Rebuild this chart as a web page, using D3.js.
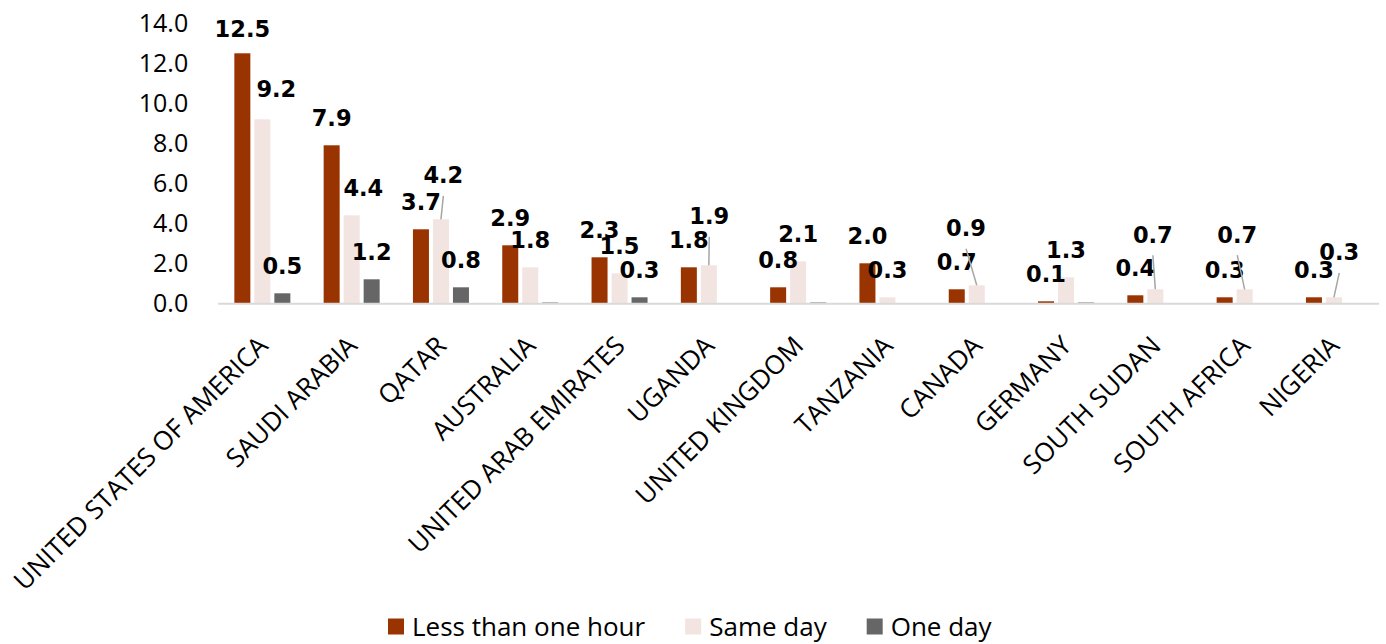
<!DOCTYPE html>
<html>
<head>
<meta charset="utf-8">
<script src="https://cdn.jsdelivr.net/npm/d3@7"></script>
<style>
  html, body { margin: 0; padding: 0; background: #fff; }
  svg { display: block; }
</style>
</head>
<body>
<svg id="chart" width="1386" height="644"></svg>
<script>
// Countries, in the order they appear on the axis
const categories = [
  "UNITED STATES OF AMERICA", "SAUDI ARABIA", "QATAR", "AUSTRALIA",
  "UNITED ARAB EMIRATES", "UGANDA", "UNITED KINGDOM", "TANZANIA",
  "CANADA", "GERMANY", "SOUTH SUDAN", "SOUTH AFRICA", "NIGERIA"
];

// Series values (percent)
const lessThanOneHour = [12.5, 7.9, 3.7, 2.9, 2.3, 1.8, 0.8, 2.0, 0.7, 0.1, 0.4, 0.3, 0.3];
const sameDay         = [9.2, 4.4, 4.2, 1.8, 1.5, 1.9, 2.1, 0.3, 0.9, 1.3, 0.7, 0.7, 0.3];
const oneDay          = [0.5, 1.2, 0.8, 0.04, 0.3, 0, 0.04, 0, 0, 0.04, 0, 0, 0];

const seriesNames = ["Less than one hour", "Same day", "One day"];
const seriesColors = ["#993300", "#F2E4E0", "#666666"];

// Y axis tick values
const yTicks = [0, 2, 4, 6, 8, 10, 12, 14];

// Data labels that were dragged away from their default spot (with leader lines)
const labelNudges = [
  { series: 0, cat: 0,  dx: 0,    dy: 3,   leader: false },
  { series: 1, cat: 0,  dx: 14,   dy: -3,  leader: false },
  { series: 1, cat: 1,  dx: 11.7, dy: 0,   leader: false },
  { series: 1, cat: 2,  dx: 2.4,  dy: -17, leader: true },
  { series: 1, cat: 5,  dx: 0.4,  dy: -22, leader: true },
  { series: 1, cat: 8,  dx: -10.7, dy: -30, leader: true },
  { series: 1, cat: 10, dx: -2.5, dy: -27.6, leader: true },
  { series: 1, cat: 11, dx: -7.4, dy: -27.6, leader: true },
  { series: 1, cat: 12, dx: 5.3,  dy: -18, leader: true }
];

const allSeries = [lessThanOneHour, sameDay, oneDay];

const svg = d3.select("#chart");
const plot = { left: 217.7, right: 1378.6, top: 23.3, bottom: 303.3 };

const x0 = d3.scaleBand()
  .domain(categories)
  .range([plot.left, plot.right])
  .paddingInner(0.328)
  .paddingOuter(0.164);

const x1 = d3.scaleBand()
  .domain(d3.range(seriesNames.length))
  .range([0, x0.bandwidth()])
  .paddingInner(0.2)
  .paddingOuter(0.1);

const y = d3.scaleLinear()
  .domain([0, 14])
  .range([plot.bottom, plot.top]);

const fmt = d3.format(".1f");

// Y axis: labels only, no line or gridlines
const yAxis = svg.append("g")
  .attr("transform", `translate(${plot.left},0)`)
  .call(d3.axisLeft(y).tickValues(yTicks).tickFormat(fmt).tickSize(0).tickPadding(29.5));
yAxis.select(".domain").remove();
yAxis.selectAll("text")
  .attr("font-family", "'Open Sans', sans-serif")
  .attr("font-size", 25)
  .attr("fill", "#000");

// Bars
const rows = [];
categories.forEach((c, ci) => {
  allSeries.forEach((vals, si) => {
    rows.push({ cat: c, ci, si, value: vals[ci] });
  });
});

svg.append("g").selectAll("rect")
  .data(rows.filter(d => d.value > 0))
  .join("rect")
  .attr("x", d => x0(d.cat) + x1(d.si))
  .attr("width", x1.bandwidth())
  .attr("y", d => y(d.value))
  .attr("height", d => y(0) - y(d.value))
  .attr("fill", d => seriesColors[d.si]);

// X axis baseline and rotated category labels
const xAxis = svg.append("g")
  .attr("transform", `translate(0,${plot.bottom})`)
  .call(d3.axisBottom(x0).tickSize(0).tickPadding(0));
xAxis.select(".domain")
  .attr("stroke", "#D9D9D9")
  .attr("stroke-width", 2);
xAxis.selectAll("text")
  .attr("font-family", "'Open Sans', sans-serif")
  .attr("font-size", 26)
  .attr("fill", "#000")
  .attr("text-anchor", "end")
  .attr("dy", 0)
  .attr("y", 0)
  .attr("transform", "translate(7,44) rotate(-45)");

// Data labels
const labelRows = rows.filter(d => d.value >= 0.05);
const labelG = svg.append("g");
labelRows.forEach(d => {
  const nudge = labelNudges.find(n => n.series === d.si && n.cat === d.ci);
  const bx = x0(d.cat) + x1(d.si) + x1.bandwidth() / 2;
  const by = y(d.value);
  const cx = bx + (nudge ? nudge.dx : 0);
  const cy = by - 27.5 + (nudge ? nudge.dy : 0);
  if (nudge && nudge.leader) {
    labelG.append("line")
      .attr("x1", cx).attr("y1", cy + 21)
      .attr("x2", bx).attr("y2", by)
      .attr("stroke", "#A6A6A6")
      .attr("stroke-width", 1.5);
  }
  labelG.append("text")
    .attr("x", cx)
    .attr("y", cy + 8.3)
    .attr("text-anchor", "middle")
    .attr("font-family", "'DejaVu Sans', sans-serif")
    .attr("font-weight", "bold")
    .attr("font-size", 22.5)
    .attr("fill", "#000")
    .text(fmt(d.value));
});

// Legend
const legend = svg.append("g");
let lx = 388;
const ly = 626.5;
seriesNames.forEach((name, i) => {
  legend.append("rect")
    .attr("x", lx).attr("y", ly - 8)
    .attr("width", 16).attr("height", 16)
    .attr("fill", seriesColors[i]);
  const t = legend.append("text")
    .attr("x", lx + 24)
    .attr("y", ly + 9)
    .attr("font-family", "'Open Sans', sans-serif")
    .attr("font-size", 26)
    .attr("fill", "#000")
    .text(name);
  lx = lx + 24 + t.node().getComputedTextLength() + 40;
});
</script>
</body>
</html>
